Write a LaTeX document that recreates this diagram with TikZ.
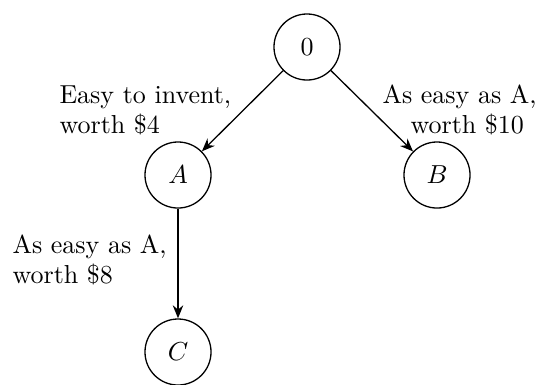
\documentclass[tikz,border=0pt]{standalone}
\usetikzlibrary{arrows.meta}
\begin{document}
\begin{tikzpicture}[x=0.01352cm,y=-0.01352cm,
  state/.style={draw,circle,minimum size=25.4pt,inner sep=0pt,line width=0.5pt},
  edge/.style={-{Stealth[length=5pt,width=4pt]},line width=0.5pt},
  lbl/.style={anchor=base west,inner sep=0pt}]
\useasboundingbox (0,0) rectangle (538,384);
\node[state] (n0) at (307,47) {$0$};
\node[state] (A) at (178,175) {$A$};
\node[state] (B) at (437,175) {$B$};
\node[state] (C) at (178,352) {$C$};
\draw[edge] (n0) -- (A);
\draw[edge] (n0) -- (B);
\draw[edge] (A) -- (C);
\node[lbl] (l1a) at (59,103) {Easy to invent,};
\node[lbl] (l1b) at (59,133) {worth \$4};
\node[lbl] (l2a) at (382,103) {As easy as A,};
\node[lbl] (l2b) at (410,133) {worth \$10};
\node[lbl] (l3a) at (12,253) {As easy as A,};
\node[lbl] (l3b) at (12,283) {worth \$8};
\end{tikzpicture}
\end{document}
